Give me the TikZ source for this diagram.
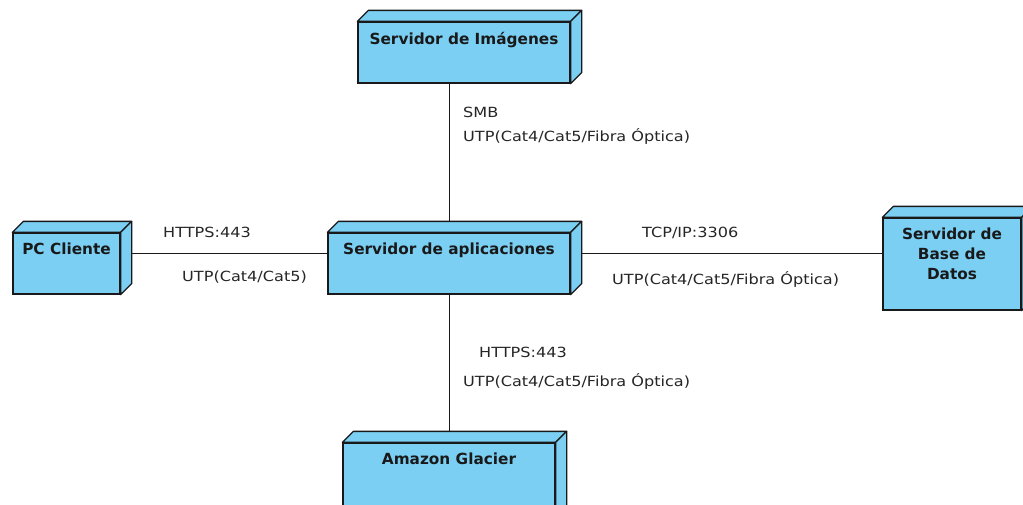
\documentclass[tikz,border=0pt]{standalone}
\usepackage{fontspec}
\setmainfont{DejaVu Sans}
\newfontfamily\devfont{DejaVu Sans}
\newfontfamily\linkfont{DejaVu Sans}[FakeStretch=1.15]
\usetikzlibrary{backgrounds}

\definecolor{devblue}{RGB}{122,207,243}
\definecolor{devedge}{RGB}{25,25,25}

\tikzset{
  devbox/.style={rectangle, draw=devedge, line width=1.3pt, fill=devblue, inner sep=0pt},
  devname/.style={font=\devfont\bfseries\fontsize{15.3}{20}\selectfont, text=black!90,
    align=center, inner sep=0pt, anchor=north, yshift=-10.5pt},
  face/.style={fill=devblue, draw=devedge, line width=1.3pt, line join=round},
  link/.style={draw=black!90, line width=1pt},
  linklbl/.style={font=\linkfont\fontsize{14}{17}\selectfont, text=black!85,
    anchor=base west, inner sep=0pt}
}

% top and right faces of a 3D device box
\newcommand\devdepth[1]{%
  \draw[face] (#1.north west) -- ++(11,-11) -- ([shift={(11,-11)}]#1.north east)
    -- (#1.north east) -- cycle;
  \draw[face] (#1.north east) -- ++(11,-11) -- ([shift={(11,-11)}]#1.south east)
    -- (#1.south east) -- cycle;}

\begin{document}
\begin{tikzpicture}[x=1pt, y=-1pt]
  \useasboundingbox (0,0) rectangle (1023,504);
  \clip (0,0) rectangle (1023,504);

  % devices
  \node[devbox, minimum width=212pt, minimum height=61pt,
        label={[devname]north:Servidor de Imágenes}] (img) at (464,52.5) {};
  \node[devbox, minimum width=242pt, minimum height=61pt,
        label={[devname]north:Servidor de aplicaciones}] (app) at (449,263.5) {};
  \node[devbox, minimum width=107pt, minimum height=61pt,
        label={[devname]north:PC Cliente}] (pc) at (66.5,263.5) {};
  \node[devbox, minimum width=138pt, minimum height=92pt,
        label={[devname]north:Servidor de\\Base de\\Datos}] (db) at (952,264) {};
  \node[devbox, minimum width=212pt, minimum height=80pt,
        label={[devname]north:Amazon Glacier}] (gl) at (449,483) {};

  \foreach \n in {img,app,pc,db,gl} {\devdepth{\n}}

  % communication paths, behind the device boxes
  \coordinate (hl) at (0,253);
  \begin{pgfonlayer}{background}
    \fill[white] (0,0) rectangle (1023,504);
    \draw[link] (img.south -| app.north) -- (app.north);
    \draw[link] (app.south) -- (gl.north);
    \draw[link] (pc.east |- hl) -- (app.west |- hl);
    \draw[link] (app.east |- hl) -- (db.west |- hl);
  \end{pgfonlayer}

  % path labels
  \node[linklbl] (smb)   at (463,117) {SMB};
  \node[linklbl] (utpA)  at (463,141) {UTP(Cat4/Cat5/Fibra Óptica)};
  \node[linklbl] (httpsA) at (163,237) {HTTPS:443};
  \node[linklbl] (utpB)  at (182,281) {UTP(Cat4/Cat5)};
  \node[linklbl] (tcp)   at (642,237) {TCP/IP:3306};
  \node[linklbl] (utpC)  at (612,284) {UTP(Cat4/Cat5/Fibra Óptica)};
  \node[linklbl] (httpsB) at (479,357) {HTTPS:443};
  \node[linklbl] (utpD)  at (463,386) {UTP(Cat4/Cat5/Fibra Óptica)};
\end{tikzpicture}
\end{document}
